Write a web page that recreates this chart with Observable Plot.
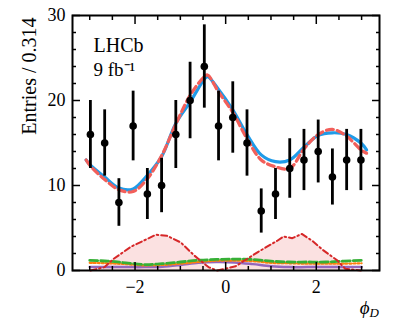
<!DOCTYPE html>
<html><head><meta charset="utf-8">
<script src="https://cdn.jsdelivr.net/npm/d3@7"></script>
<script src="https://cdn.jsdelivr.net/npm/@observablehq/plot@0.6"></script>
<style>body{margin:0;background:#fff} svg text{font-family:"Liberation Serif",serif}</style>
</head><body><div id="chart"></div>
<script>
// Data
const binCenters = [-2.985,-2.670,-2.356,-2.042,-1.728,-1.414,-1.100,-0.785,-0.471,-0.157,0.157,0.471,0.785,1.100,1.414,1.728,2.042,2.356,2.670,2.985];
const counts = [16,15,8,17,9,10,16,20,24,17,18,15,7,9,12,13,14,11,13,13];
const errors = [4.0,3.9,2.8,4.1,3.0,3.2,4.0,4.5,4.9,4.1,4.2,3.9,2.6,3.0,3.5,3.6,3.7,3.3,3.6,3.6];

const curveX = [-3.08,-2.985,-2.670,-2.356,-2.042,-1.728,-1.414,-1.100,-0.785,-0.471,-0.40,-0.157,0.157,0.471,0.785,1.100,1.414,1.728,2.042,2.356,2.670,2.985,3.11];
const totalFit = [13.0,12.4,11.0,9.7,9.6,11.2,13.4,17.3,19.8,22.5,22.8,21.3,18.9,16.0,13.6,12.8,13.0,14.5,15.9,16.2,16.0,15.0,14.2];
const altFit   = [13.0,12.3,10.7,9.5,9.3,10.8,13.5,17.2,20.6,22.8,23.0,21.0,18.6,15.5,13.0,12.2,12.0,14.3,16.0,16.6,15.8,14.2,13.8];

const sigX = [-2.985,-2.67,-2.49,-2.09,-1.54,-1.30,-0.99,-0.70,-0.38,-0.19,0.22,0.72,1.14,1.28,1.47,1.68,1.91,2.15,2.46,2.64,2.985];
const sigY = [0.0,0.4,1.3,2.8,4.2,4.1,3.3,1.8,0.4,0.0,0.5,2.2,3.5,4.0,3.8,4.3,3.5,2.4,1.2,0.2,0.0];

const bkgX = [-3.0,-2.6,-2.2,-1.8,-1.4,-1.0,-0.6,-0.2,0.2,0.6,1.0,1.4,1.8,2.2,2.6,3.0];
const greenY  = [1.2,1.1,0.9,0.7,0.8,1.0,1.2,1.3,1.35,1.3,1.1,1.0,1.0,1.0,1.1,1.2];
const orangeY = [0.9,0.85,0.75,0.6,0.65,0.8,1.0,1.15,1.15,1.1,0.9,0.85,0.8,0.8,0.8,0.85];
const purpleY = [0.4,0.4,0.4,0.4,0.45,0.65,0.9,1.0,0.95,0.75,0.5,0.4,0.4,0.4,0.4,0.4];

const xMajor = [-2,0,2];
const xMinor = [-3,-2.5,-1.5,-1,-0.5,0.5,1,1.5,2.5,3];
const yMajor = [0,10,20,30];
const yMinor = [2,4,6,8,12,14,16,18,22,24,26,28];

const pts = binCenters.map((x,i)=>({x, y:counts[i], lo:counts[i]-errors[i], hi:counts[i]+errors[i]}));
const fit = curveX.map((x,i)=>({x, total: totalFit[i], alt: altFit[i]}));
const sig = sigX.map((x,i)=>({x, y: sigY[i]}));
const bkg = bkgX.map((x,i)=>({x, g: greenY[i], o: orangeY[i], p: purpleY[i]}));

const FF = "Liberation Serif";
const fmt = d => d < 0 ? "\u2212" + Math.abs(d) : String(d);
const noText = () => "";

const chart = Plot.plot({
  width: 399, height: 322,
  marginLeft: 72, marginRight: 20, marginTop: 15, marginBottom: 52,
  x: {domain: [-3.38, 3.395]},
  y: {domain: [0, 30]},
  style: {fontFamily: FF, fontSize: "17px", background: "white", color: "black"},
  marks: [
    Plot.areaY(sig, {x: "x", y: "y", fill: "#fbe1e1", curve: "linear"}),
    Plot.lineY(bkg, {x: "x", y: "p", stroke: "#9467bd", strokeWidth: 2.5, curve: "catmull-rom"}),
    Plot.lineY(bkg, {x: "x", y: "o", stroke: "#ff7f0e", strokeWidth: 2.2, strokeDasharray: "2,2", curve: "catmull-rom"}),
    Plot.lineY(bkg, {x: "x", y: "g", stroke: "#36b036", strokeWidth: 2.8, strokeDasharray: "8,3", curve: "catmull-rom"}),
    Plot.lineY(sig, {x: "x", y: "y", stroke: "#d62728", strokeWidth: 2, strokeDasharray: "6,3,1.5,3", curve: "linear"}),
    Plot.lineY(fit, {x: "x", y: "total", stroke: "#1f9be8", strokeWidth: 3.2, curve: "catmull-rom"}),
    Plot.lineY(fit, {x: "x", y: "alt", stroke: "#f25f5a", strokeWidth: 3.2, strokeDasharray: "7,4", curve: "catmull-rom"}),
    Plot.ruleX(pts, {x: "x", y1: "lo", y2: "hi", stroke: "black", strokeWidth: 2.8}),
    Plot.dot(pts, {x: "x", y: "y", r: 3.8, fill: "black"}),
    // axes: inward ticks on all sides
    Plot.axisX(xMinor, {anchor: "bottom", tickSize: -4, tickFormat: noText, strokeWidth: 1.5, label: null}),
    Plot.axisX(xMajor, {anchor: "bottom", tickSize: -8, tickFormat: noText, strokeWidth: 1.5, label: null}),
    Plot.axisX(xMinor, {anchor: "top", tickSize: -4, tickFormat: noText, strokeWidth: 1.5, label: null}),
    Plot.axisX(xMajor, {anchor: "top", tickSize: -8, tickFormat: noText, strokeWidth: 1.5, label: null}),
    Plot.axisY(yMinor, {anchor: "left", tickSize: -4, tickFormat: noText, strokeWidth: 1.5, label: null}),
    Plot.axisY(yMajor, {anchor: "left", tickSize: -8, tickFormat: noText, strokeWidth: 1.5, label: null}),
    Plot.axisY(yMinor, {anchor: "right", tickSize: -4, tickFormat: noText, strokeWidth: 1.5, label: null}),
    Plot.axisY(yMajor, {anchor: "right", tickSize: -8, tickFormat: noText, strokeWidth: 1.5, label: null}),
    Plot.axisX(xMajor, {anchor: "bottom", tickSize: 0, tickPadding: 10, tickFormat: fmt, fontSize: 18, fontFamily: FF, label: null}),
    Plot.axisY(yMajor, {anchor: "left", tickSize: 0, tickPadding: 7, tickFormat: fmt, fontSize: 18, fontFamily: FF, label: null}),
    Plot.frame({stroke: "black", strokeWidth: 2}),
    Plot.text(["LHCb"], {frameAnchor: "top-left", dx: 21, dy: 30, textAnchor: "start", lineAnchor: "middle", fontSize: 20, fontFamily: FF}),
    Plot.text(["9 fb\u207B\u00B9"], {frameAnchor: "top-left", dx: 21, dy: 54, textAnchor: "start", lineAnchor: "middle", fontSize: 19, fontFamily: FF}),
    Plot.text(["Entries / 0.314"], {frameAnchor: "top-left", dx: -43, dy: 2, rotate: -90, textAnchor: "end", lineAnchor: "middle", fontSize: 20, fontFamily: FF})
  ]
});
document.getElementById("chart").appendChild(chart);

// x-axis label with subscript
const svg = d3.select(chart);
const t = svg.append("text")
  .attr("x", 379).attr("y", 314)
  .attr("text-anchor", "end")
  .attr("font-family", FF)
  .attr("font-style", "italic")
  .attr("font-size", 19);
t.append("tspan").text("\u03D5");
t.append("tspan").attr("font-size", 13).attr("dy", 3).text("D");
</script>
</body></html>
